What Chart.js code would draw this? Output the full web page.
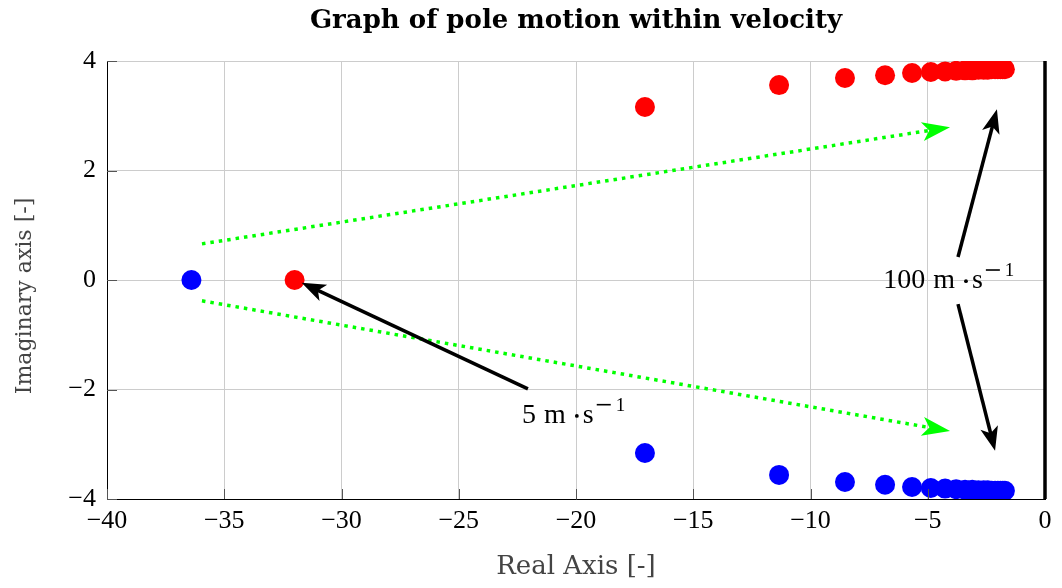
<!DOCTYPE html>
<html>
<head>
<meta charset="utf-8">
<script src="https://cdn.jsdelivr.net/npm/chart.js@4"></script>
<style>
  html, body { margin: 0; background: #fff; }
  #wrap { width: 1062px; height: 588px; position: relative; }
</style>
</head>
<body>
<div id="wrap"><canvas id="c"></canvas></div>
<script>
// poles at v = 5 m/s are both real
const realPolesRed = [-32.0]
const realPolesBlue = [-36.4]
// complex pole pairs for v = 10 ... 100 m/s
const realParts = [-17.06, -11.34, -8.53, -6.82, -5.67, -4.87, -4.26, -3.79, -3.41, -3.10,
  -2.84, -2.62, -2.44, -2.27, -2.13, -2.01, -1.90, -1.80, -1.71]
const imagUpper = [3.16, 3.56, 3.69, 3.74, 3.78, 3.80, 3.81, 3.82, 3.83, 3.83,
  3.84, 3.84, 3.84, 3.85, 3.85, 3.85, 3.85, 3.85, 3.85]
const imagLower = [-3.16, -3.56, -3.69, -3.74, -3.78, -3.80, -3.81, -3.82, -3.83, -3.83,
  -3.84, -3.84, -3.84, -3.85, -3.85, -3.85, -3.85, -3.85, -3.85]

const xTicks = [-40, -35, -30, -25, -20, -15, -10, -5, 0]
const yTicks = [-4, -2, 0, 2, 4]

// annotation arrows in data units: [x0, y0, x1, y1]
const greenArrows = [[-35.95, 0.66, -4.05, 2.79], [-35.95, -0.38, -4.05, -2.76]]
const blackArrows = [[-22.05, -1.99, -31.7, -0.05], [-3.71, 0.42, -2.05, 3.12], [-3.71, -0.44, -2.13, -3.12]]
// labels: [speed, x (left), y (baseline)]
const speedLabels = [['5', -22.3, -2.61], ['100', -6.9, -0.15]]

const serif = "'Liberation Serif', serif"
const wideSerif = "'DejaVu Serif', serif"

const redData = realPolesRed.map(x => ({ x, y: 0 }))
  .concat(realParts.map((x, i) => ({ x, y: imagUpper[i] })))
const blueData = realPolesBlue.map(x => ({ x, y: 0 }))
  .concat(realParts.map((x, i) => ({ x, y: imagLower[i] })))

function minus(v) { return String(v).replace('-', '\u2212') }

function arrowHead(ctx, x1, y1, ang, len, wid, color) {
  ctx.save()
  ctx.translate(x1, y1)
  ctx.rotate(ang)
  ctx.fillStyle = color
  ctx.beginPath()
  ctx.moveTo(0, 0)
  ctx.lineTo(-len, wid / 2)
  ctx.lineTo(-len * 0.75, 0)
  ctx.lineTo(-len, -wid / 2)
  ctx.closePath()
  ctx.fill()
  ctx.restore()
}

const extras = {
  id: 'extras',
  afterDatasetsDraw(chart) {
    const { ctx, chartArea: a, scales: { x, y } } = chart
    ctx.save()
    // inner tick marks, left and bottom
    ctx.strokeStyle = '#555'
    ctx.lineWidth = 1
    yTicks.forEach(t => {
      const py = Math.round(y.getPixelForValue(t)) + 0.5
      ctx.beginPath(); ctx.moveTo(a.left, py); ctx.lineTo(a.left + 10, py); ctx.stroke()
    })
    xTicks.forEach(t => {
      const px = Math.round(x.getPixelForValue(t)) + 0.5
      ctx.beginPath(); ctx.moveTo(px, a.bottom); ctx.lineTo(px, a.bottom - 10); ctx.stroke()
    })
    // imaginary axis at Re = 0
    ctx.strokeStyle = '#000'
    ctx.lineWidth = 3.5
    const x0 = x.getPixelForValue(0)
    ctx.beginPath(); ctx.moveTo(x0, a.top); ctx.lineTo(x0, a.bottom); ctx.stroke()

    // green dotted arrows
    greenArrows.forEach(([u0, v0, u1, v1]) => {
      const px0 = x.getPixelForValue(u0), py0 = y.getPixelForValue(v0)
      const px1 = x.getPixelForValue(u1), py1 = y.getPixelForValue(v1)
      const ang = Math.atan2(py1 - py0, px1 - px0)
      ctx.strokeStyle = '#00ff00'
      ctx.lineWidth = 3.5
      ctx.setLineDash([3.5, 5])
      ctx.beginPath()
      ctx.moveTo(px0, py0)
      ctx.lineTo(px1 - 20 * Math.cos(ang), py1 - 20 * Math.sin(ang))
      ctx.stroke()
      ctx.setLineDash([])
      arrowHead(ctx, px1, py1, ang, 28, 19, '#00ff00')
    })
    // black arrows
    blackArrows.forEach(([u0, v0, u1, v1]) => {
      const px0 = x.getPixelForValue(u0), py0 = y.getPixelForValue(v0)
      const px1 = x.getPixelForValue(u1), py1 = y.getPixelForValue(v1)
      const ang = Math.atan2(py1 - py0, px1 - px0)
      ctx.strokeStyle = '#000'
      ctx.lineWidth = 3.5
      ctx.beginPath()
      ctx.moveTo(px0, py0)
      ctx.lineTo(px1 - 15 * Math.cos(ang), py1 - 15 * Math.sin(ang))
      ctx.stroke()
      arrowHead(ctx, px1, py1, ang, 24, 18, '#000')
    })
    // speed labels  "N m · s^-1"
    ctx.fillStyle = '#000'
    ctx.textBaseline = 'alphabetic'
    ctx.textAlign = 'left'
    speedLabels.forEach(([num, u, v]) => {
      let px = x.getPixelForValue(u)
      const py = y.getPixelForValue(v)
      ctx.font = '28px ' + serif
      ctx.fillText(num, px, py)
      px += ctx.measureText(num).width + 8
      ctx.fillText('m', px, py)
      px += ctx.measureText('m').width
      ctx.beginPath(); ctx.arc(px + 11, py - 7, 1.9, 0, Math.PI * 2); ctx.fill()
      px += 17
      ctx.fillText('s', px, py)
      px += ctx.measureText('s').width + 3
      ctx.fillRect(px, py - 19, 14, 1.6)
      ctx.font = '19px ' + serif
      ctx.fillText('1', px + 19, py - 12)
    })
    ctx.restore()
  },
  afterDraw(chart) {
    const { ctx, chartArea: a } = chart
    ctx.save()
    ctx.textAlign = 'center'
    ctx.textBaseline = 'middle'
    ctx.fillStyle = '#000'
    ctx.font = 'bold 26px ' + wideSerif
    ctx.fillText('Graph of pole motion within velocity', (a.left + a.right) / 2, 21)
    ctx.fillStyle = '#444'
    ctx.font = '26px ' + wideSerif
    ctx.fillText('Real Axis [-]', (a.left + a.right) / 2, 567)
    ctx.font = '22px ' + wideSerif
    ctx.translate(25, (a.top + a.bottom) / 2 + 16)
    ctx.rotate(-Math.PI / 2)
    ctx.fillText('Imaginary axis [-]', 0, 0)
    ctx.restore()
  }
}

new Chart(document.getElementById('c'), {
  type: 'scatter',
  data: {
    datasets: [
      { label: 'upper', data: redData, backgroundColor: '#ff0000', borderWidth: 0, pointRadius: 10, pointHoverRadius: 10 },
      { label: 'lower', data: blueData, backgroundColor: '#0000ff', borderWidth: 0, pointRadius: 10, pointHoverRadius: 10 }
    ]
  },
  options: {
    responsive: true,
    maintainAspectRatio: false,
    animation: false,
    events: [],
    layout: { padding: { top: 61, right: 17, left: 0, bottom: 0 } },
    plugins: { legend: { display: false }, tooltip: { enabled: false } },
    scales: {
      x: {
        type: 'linear', min: -40, max: 0,
        afterFit(s) { s.height = 89 },
        afterBuildTicks(s) { s.ticks = xTicks.map(v => ({ value: v })) },
        grid: { color: '#cccccc', lineWidth: 1, drawTicks: false },
        border: { color: '#000', width: 1 },
        ticks: { color: '#000', padding: 7, font: { family: serif, size: 26 }, callback: v => minus(v), maxRotation: 0 }
      },
      y: {
        type: 'linear', min: -4, max: 4,
        afterFit(s) { s.width = 107 },
        afterBuildTicks(s) { s.ticks = yTicks.map(v => ({ value: v })) },
        grid: { color: '#cccccc', lineWidth: 1, drawTicks: false },
        border: { color: '#000', width: 1 },
        ticks: { color: '#000', padding: 11, font: { family: serif, size: 26 }, callback: v => minus(v) }
      }
    }
  },
  plugins: [extras]
})
</script>
</body>
</html>
